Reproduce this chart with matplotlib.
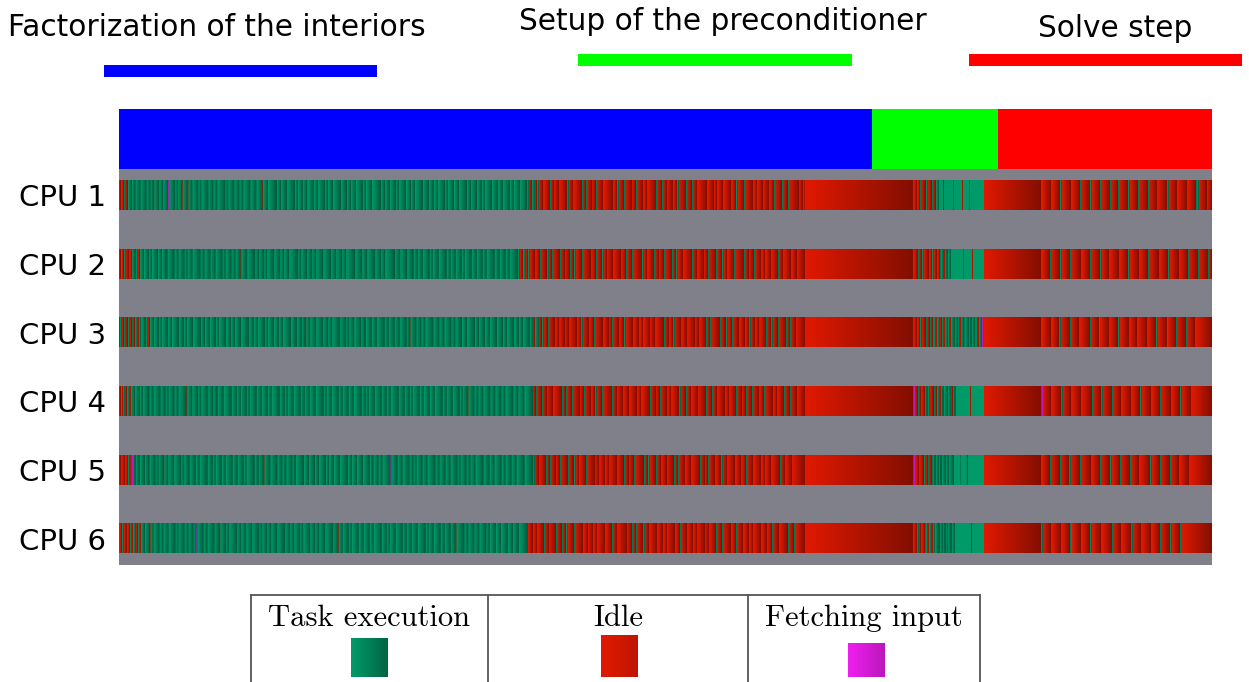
import re
import numpy as np
import matplotlib
matplotlib.use("Agg")
import matplotlib.pyplot as plt
from matplotlib.patches import Rectangle

W, H = 1249, 682

## phases of the run (time in trace units, 0 .. trace_end)
phase_names = ["Factorization of the interiors", "Setup of the preconditioner", "Solve step"]
phase_starts = [0, 752.5, 878.5]
trace_end = 1093

cpu_names = ["CPU 1", "CPU 2", "CPU 3", "CPU 4", "CPU 5", "CPU 6"]
state_names = ["Task execution", "Idle", "Fetching input"]

## events per CPU: (part start, "state+duration ...")
## g = task, G = task (flat), i = idle, f = fetching input, * = until next part
cpu1_trace = [
    (0, "i2 g1 i2 g1 i3 g4 g3 i0.6 g5 g6 g4 g3 i0.6 g5 g4 g5 f1 g6 g3 g4 i0.6 g5 i0.6 g4 g6 g3 g7 g5 g4 g8 g3 "
        "g6 g5 g4 g7 g6 g6 i0.6 g5 g9 g4 g6 g8 g3 g5 g4 f1 g6 g4 g7 g3 g5 g8 g6 g4 g5 g7 g3 g6 g9 g4 "
        "g5 g6 g3 g7 g5 g4 g8 g6 g5 g4 g7 g3 g6 g5 g8 g4 g6 g5 g3 g7 g6 g5 g7 g4 g6 g*"),
    (408, "g2 i3 g3 i2 g2 i4 g1 i6 g1 i3 i5 g1 i7 g2 i4 g1 i8 g1 i3 g1 i5 i4 g1 i6 g1 i9 g1 i3 g2 i5 "
          "g1 i7 i4 g1 i6 g1 i3 g1 i8 g1 i5 g1 i4 i6 g1 i3 g2 i7 g1 i5 g1 i4 g1 i9 g1 i6 i3 g1 i5 g1 "
          "i7 g1 i4 g2 i6 g1 i8 g1 i3 g1 i5 i6 g1 i4 g1 i7 g1 i5 g1 i10 i4 g1 i6 i*"),
    (686, "i*"),
    (794, "g1 i3 g1 i2 g1 i5 g2 i4 g1 i3 g3 G4 i1 G9 g1 G8 i1 G6 g1 G*"),
    (865, "i*"),
    (922, "g1 i9 g1 i8 g2 i9 g1 i8 g1 i9 g2 i8 g1 i9 g1 i7 g1 i9 g2 i8 g1 i9 g1 i8 g1 i9 g2 i8 g1 i9 "
          "g1 i8 g1 g2 i8 i*"),
]
cpu2_trace = [
    (0, "i2 f1 i2 g2 i3 g1 i2 g3 i1 g2 i2 g4 g5 g3 g6 g4 g5 i0.6 g7 g4 g6 g3 g5 g8 g4 g6 g5 g7 g3 g6 "
        "g4 g5 i0.6 g6 g8 g4 g5 g3 g7 g6 g4 g5 g9 g3 g6 g5 g4 g7 g8 g5 g6 g4 g9 g7 g5 g8 g6 g4 g10 g5 "
        "g7 g6 i0.6 g4 g5 g7 g3 g6 g8 g4 g5 g6 g3 g7 g5 g6 g4 g8 g5 g6 g4 g*"),
    (399, "g2 i3 g3 i2 g2 i5 g1 i4 g1 i6 g2 i3 g1 i7 g1 i4 i5 g1 i3 g2 i6 g1 i8 g1 i4 g1 i5 g2 i3 i6 "
          "g1 i7 g1 i4 g1 i5 g1 i9 g2 i3 g1 i6 g1 i4 i5 g1 i7 g1 i3 g2 i5 g1 i8 g1 i4 g1 i6 i4 g1 i7 "
          "g1 i5 g2 i3 g1 i6 g1 i9 g1 i4 i5 g1 i6 g1 i3 g1 i5 g1 i6 g1 i4 g1 i7 g1 i5 i*"),
    (686, "i*"),
    (794, "g1 i4 g1 i3 g2 i5 g1 i2 g2 i3 g1 i2 g1 g3 i1 g2 i1 g3 G12 g1 G8 i1 G*"),
    (865, "i*"),
    (922, "g1 i8 g1 i9 g2 i8 g1 i10 g1 i8 g1 i9 g2 i7 g1 i9 g1 i8 g2 i9 g1 i8 g1 i10 g1 i8 g2 i9 g1 i8 "
          "g1 i9 g1 i9 g1 i*"),
]
cpu3_trace = [
    (0, "i1 g2 i2 g1 i3 g2 i2 g1 i2 g3 i1 g2 f1 g3 i1 g2 i2 g4 g5 g3 g6 g4 g7 g5 g3 g6 g8 g4 g5 g6 "
        "g3 g7 g5 g4 g6 g8 g5 g4 g7 g3 g6 g5 g4 g8 g6 g5 g3 i1.2 g4 g6 g7 g5 g4 g8 g6 g3 g5 g7 g4 i0.6 "
        "g6 g5 g8 g4 g6 g5 g7 g3 i0.6 g6 g5 g4 g8 g6 g5 g7 g4 g6 i0.6 g5 g8 g4 g6 g5 g7 g6 g4 g7 g5 g4 g*"),
    (411, "g3 i2 g4 i3 g2 i4 g1 i6 g1 i3 g1 i5 i4 g1 i7 g1 i3 g2 i6 g1 i4 g1 i8 g1 i5 i3 g1 i6 g1 i4 "
          "g2 i7 g1 i5 g1 i3 g1 i6 i5 g1 i8 g1 i4 g1 i3 g2 i6 g1 i5 g1 i7 i4 g1 i6 g1 i3 g1 i9 g1 i5 "
          "g2 i4 g1 i6 g1 i5 g1 i3 g2 i4 g1 i3 g1 i6 g1 i4 g2 i5 g1 i7 g1 i3 g1 i5 i*"),
    (686, "i*"),
    (794, "g1 i3 g1 i2 g2 i4 g1 i3 g1 i2 f1 g2 i1 g3 i2 g2 i1 g3 g2 i1 g4 g3 g2 i1 g3 g1 g4 g2 i1 g3 "
          "f1 g2 i1 g3 f1 g*"),
    (865, "i*"),
    (922, "g1 i9 g1 i7 g2 i9 g1 i8 g1 i10 g1 i8 f1 i9 g1 i8 g2 i9 g1 i7 g1 i9 g1 i8 g2 i9 f1 i8 g1 i9 "
          "g1 i8 g1 i*"),
]
cpu4_trace = [
    (0, "i2 f1 i1 g2 i2 g3 i1 g4 g5 g3 g6 i0.6 g4 g7 g5 g3 g6 g4 g8 i0.6 g5 g6 g3 g7 g5 g4 i0.6 g6 g8 g5 "
        "g4 g6 g3 g7 g5 g6 g4 g8 g5 g3 g6 g7 g4 g5 g6 g8 g3 g5 g7 g4 g6 g5 g8 g4 g3 g6 g7 g5 g4 g8 "
        "g6 g5 g3 g7 g4 g6 g5 g8 g4 g6 g7 g3 g5 i0.6 g6 g4 g5 g7 g5 g6 g4 g8 g5 g6 g*"),
    (414, "i3 g1 i5 g1 i4 i6 g1 i8 g1 i3 g1 i5 g1 i7 i4 g1 i6 g1 i3 g2 i5 g1 i9 g1 i4 i6 g1 i5 g1 i7 "
          "g1 i3 g1 i8 g1 i5 i4 g1 i6 g1 i3 g1 i7 g2 i5 g1 i4 g1 i6 i8 g1 i5 g1 i4 g1 i7 g1 i3 g1 i6 "
          "g1 i5 i4 g1 i5 g1 i6 g1 i4 g1 i8 g1 i3 g1 i6 g1 i5 g1 i6 g1 i*"),
    (686, "i*"),
    (794, "g1 f1 i3 g1 i2 g1 i3 g2 i1 g2 i4 g1 i2 g3 i1 g2 i1 g4 g3 i2 g2 i1 G14 i1 G*"),
    (865, "i*"),
    (922, "g1 f1 i8 g1 i9 g2 i8 g1 i9 g1 i10 g1 i8 g2 i9 g1 i8 g1 i9 g1 i8 g2 i9 g1 i8 g1 i10 g1 i8 g2 "
          "i9 g1 i*"),
]
cpu5_trace = [
    (0, "i2 g1 i3 g1 i2 g2 i1 g1 f1 g2 i1 g3 i1 g5 g4 i0.6 g6 g3 g5 i0.6 g4 g6 g7 g3 g5 i0.6 g6 g4 g8 g5 "
        "g3 g6 g4 g7 g5 g6 g3 g8 g4 g5 i0.6 g6 g7 g5 g4 g6 g3 i0.6 g8 g5 g6 g4 g7 g3 g5 g6 g8 g4 g5 g6 "
        "g7 g3 i0.6 g5 g4 g8 f1 g6 g5 g7 g4 g3 g6 g5 g8 g4 g6 g5 g7 g3 g6 g4 g5 g8 g6 g5 g7 g4 g6 g5 g8 g*"),
    (414, "g2 i4 g1 i6 g1 i3 g1 i5 i4 g1 i7 g1 i5 g2 i3 g1 i6 g1 i8 i4 g1 i5 g1 i3 g1 i7 g1 i6 g1 i4 "
          "i5 g1 i9 g1 i3 g2 i6 g1 i4 g1 i5 i7 g1 i3 g1 i6 g1 i5 g1 i8 g1 i4 i3 g1 i6 g1 i5 g2 i4 g1 "
          "i7 g1 i5 g1 i4 g1 i6 g1 i7 g1 i3 g1 i5 g1 i8 g1 i4 g1 i6 i*"),
    (686, "i*"),
    (794, "g1 f1 g1 i3 g1 i4 g2 i2 g1 i3 g1 g2 i1 g3 g2 i1 g4 g3 g5 G6 g1 G5 g2 G*"),
    (865, "i*"),
    (922, "g1 i8 g1 i9 g1 i8 g2 i9 g1 i10 g1 i8 g1 i9 g2 i8 g1 i9 g1 i8 g1 i10 g2 i8 g1 i9 g1 i8 g1 i9 "
          "g1 i*"),
]
cpu6_trace = [
    (0, "g1 i2 g2 i3 g1 i2 g2 i1 g3 i2 g2 i1 g4 g5 i0.6 g3 g6 g4 g5 g7 g3 g6 g4 g5 g3 f1 g6 g4 g7 g5 "
        "i0.6 g6 g3 g8 g4 g5 g6 g7 g3 g5 g4 g6 g8 g5 g4 g6 g3 g7 g5 g4 g6 g8 g5 i0.6 g4 g6 g3 g7 g5 g6 "
        "g4 g8 g5 g3 g6 g7 g4 g5 g6 g8 g3 g5 g7 g4 g6 g5 i0.6 g8 g4 g6 g5 g7 g3 i0.6 g6 g5 g7 g5 g6 g*"),
    (409, "i5 g1 i3 g1 i6 g1 i4 i7 g1 i5 g1 i3 g2 i6 g1 i8 g1 i4 i5 g1 i3 g1 i7 g1 i6 g1 i4 g1 i9 i5 "
          "g1 i3 g1 i6 g2 i4 g1 i7 g1 i5 g1 i3 i8 g1 i4 g1 i6 g1 i5 g1 i3 g1 i7 i4 g1 i6 g1 i5 g1 i8 "
          "g1 i4 g1 i6 g1 i5 g1 i3 g1 i7 g1 i5 g1 i4 g1 i6 g1 i8 g1 i5 g1 i*"),
    (686, "i*"),
    (794, "g1 i3 g2 i2 g1 i3 g1 g2 i1 g3 i1 g2 g4 i1 g3 g2 i1 g2 g3 i1 g3 G16 i1 G*"),
    (865, "i*"),
    (922, "g2 i8 g1 i9 g1 i8 g1 f1 i9 g1 i8 g2 i9 g1 i10 g1 i8 g1 i9 g2 i8 g1 i9 g1 i8 g1 i9 g2 i8 g1 "
          "i*"),
]
cpu_traces = [cpu1_trace, cpu2_trace, cpu3_trace, cpu4_trace, cpu5_trace, cpu6_trace]

## colours
STATE_RGB = {'g': (0, 155, 105), 'G': (0, 155, 105), 'i': (225, 25, 0), 'f': (240, 30, 240)}
LEGEND_STATES = ['g', 'i', 'f']
LEGEND_SHADE = [0.35, 0.15, 0.22]
PHASE_COLORS = ['#0000ff', '#00ff00', '#ff0000']
GRAY = '#80808a'
SHADE = 0.42   # how much darker the end of an event is
SUB = 10       # sub-samples per trace unit


def parse(parts):
    events = []
    bounds = [p[0] for p in parts] + [trace_end]
    for k, (start, text) in enumerate(parts):
        t = start
        stop = bounds[k + 1]
        for state, dur in re.findall(r'([gGif])([\d.]+|\*)', text):
            if t >= stop:
                break
            d = stop - t if dur == '*' else min(float(dur), stop - t)
            events.append((t, d, state))
            t += d
    return events


def row_image(events):
    img = np.tile(np.array(matplotlib.colors.to_rgb(GRAY)), (trace_end * SUB, 1))
    for t, d, s in events:
        c0, c1 = int(round(t * SUB)), int(round((t + d) * SUB))
        if c1 <= c0:
            continue
        base = np.array(STATE_RGB[s]) / 255.0
        if s == 'G':
            shade = np.ones(c1 - c0)
        else:
            shade = 1 - SHADE * np.linspace(0, 1, c1 - c0)
        img[c0:c1] = base * shade[:, None]
    img = img.reshape(trace_end, SUB, 3).mean(axis=1)
    return img[None, :, :]


fig = plt.figure(figsize=(W / 100, H / 100), dpi=100)

## trace area, y in pixels from the top of the phase bar
ax = fig.add_axes([119 / W, 1 - 565 / H, trace_end / W, 456 / H])
ax.add_patch(Rectangle((0, 60), trace_end, 396, color=GRAY, lw=0, zorder=0))
phase_ends = phase_starts[1:] + [trace_end]
for s, e, c in zip(phase_starts, phase_ends, PHASE_COLORS):
    ax.add_patch(Rectangle((s, 0), e - s, 60, color=c, lw=0))

ROW_TOP, ROW_PITCH, ROW_H = 71.7, 68.6, 29.6
for i, parts in enumerate(cpu_traces):
    top = ROW_TOP + ROW_PITCH * i
    ax.imshow(row_image(parse(parts)), extent=(0, trace_end, top + ROW_H, top),
              aspect='auto', interpolation='nearest', zorder=2)
ax.set_xlim(0, trace_end)
ax.set_ylim(456, 0)
ax.axis('off')

## overlay in figure pixels for labels and legends
lay = fig.add_axes([0, 0, 1, 1])
lay.set_xlim(0, W)
lay.set_ylim(H, 0)
lay.axis('off')

for i, name in enumerate(cpu_names):
    yc = 109 + ROW_TOP + ROW_PITCH * i + ROW_H / 2
    lay.text(106, yc + 11, name, ha='right', va='baseline', fontsize=21)

## phase legend at the top
phase_text_pos = [(216.5, 36), (723, 30), (1115, 37)]
phase_bar_pos = [(104, 65, 273), (578, 54, 274), (969, 54, 273)]
for name, c, (tx, ty), (bx, by, bw) in zip(phase_names, PHASE_COLORS, phase_text_pos, phase_bar_pos):
    lay.text(tx, ty, name, ha='center', va='baseline', fontsize=21.3)
    lay.add_patch(Rectangle((bx, by), bw, 12, color=c, lw=0))

## state legend table at the bottom
LINE = '#555555'
lay.plot([251, 980], [595, 595], color=LINE, lw=1.3)
for x in [251, 488, 748, 980]:
    lay.plot([x, x], [595, 690], color=LINE, lw=1.3)
col_centers = [369.5, 618, 864]
swatch_pos = [(351, 638), (601, 635), (848, 643)]
for name, s, k, xc, (sx, sy) in zip(state_names, LEGEND_STATES, LEGEND_SHADE, col_centers, swatch_pos):
    lay.text(xc, 626, name, ha='center', va='baseline', fontsize=22, family='cmr10')
    base = np.array(STATE_RGB[s]) / 255.0
    grad = base[None, :] * (1 - k * np.linspace(0, 1, 40))[:, None]
    lay.imshow(grad[None, :, :], extent=(sx, sx + 37, 677, sy), aspect='auto',
               interpolation='bilinear')
lay.set_xlim(0, W)
lay.set_ylim(H, 0)

fig.savefig("out.png", dpi=100)
